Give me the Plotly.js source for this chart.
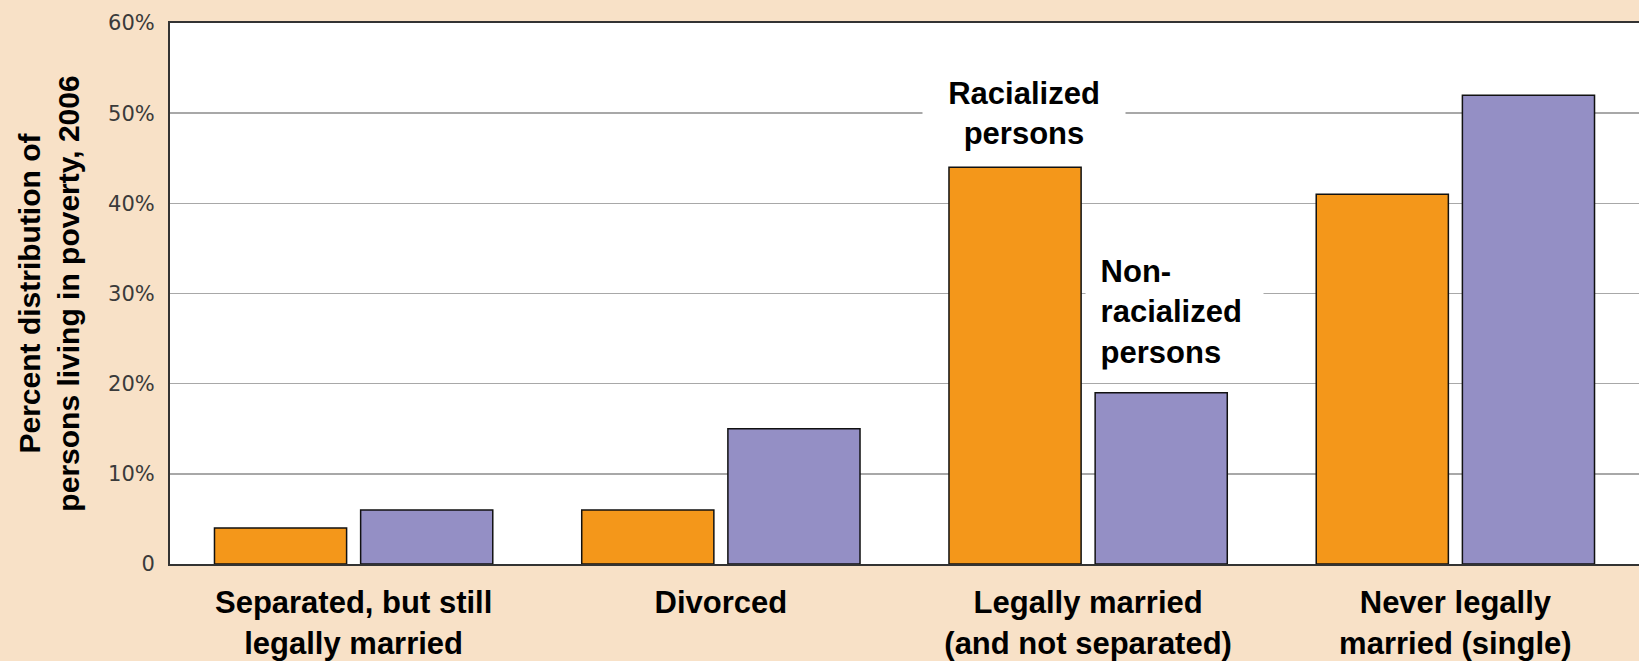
<!DOCTYPE html>
<html>
<head>
<meta charset="utf-8">
<script src="https://cdn.plot.ly/plotly-3.0.1.min.js"></script>
<style>
html,body{margin:0;padding:0;background:#F8E1C7;}
#chart{width:1639px;height:661px;}
</style>
</head>
<body>
<div id="chart"></div>
<script>
const categories = [
  "Separated, but still<br>legally married",
  "Divorced",
  "Legally married<br>(and not separated)",
  "Never legally<br>married (single)"
];
const racialized = [4, 6, 44, 41];
const nonRacialized = [6, 15, 19, 52];
const tickVals = [0, 10, 20, 30, 40, 50, 60];
const tickText = ["0", "10%", "20%", "30%", "40%", "50%", "60%"];
const seriesNames = ["Racialized<br>persons", "Non-<br>racialized<br>persons"];

const FONT = "Arial, 'Liberation Sans', sans-serif";
const TICKFONT = "'DejaVu Sans', Verdana, sans-serif";

const traces = [
  {
    type: "bar", x: categories, y: racialized, name: "Racialized persons",
    marker: {color: "#F4971A", line: {color: "#111", width: 1.5}},
    hoverinfo: "y"
  },
  {
    type: "bar", x: categories, y: nonRacialized, name: "Non-racialized persons",
    marker: {color: "#948FC5", line: {color: "#111", width: 1.5}},
    hoverinfo: "y"
  }
];

const indented = seriesNames[1].split("<br>").map(s => "&nbsp;" + s).join("<br>");

const layout = {
  width: 1639, height: 661,
  paper_bgcolor: "#F8E1C7",
  plot_bgcolor: "#FFFFFF",
  margin: {l: 170, r: 0, t: 23, b: 97},
  showlegend: false,
  barmode: "group",
  bargap: 0.204,
  bargroupgap: 0.096,
  font: {family: FONT, color: "#000"},
  xaxis: {
    type: "category",
    showline: true, linecolor: "#333", linewidth: 2, mirror: true,
    ticks: "", showgrid: false,
    tickfont: {family: FONT, size: 31, color: "#000", weight: "bold"},
    ticklabelstandoff: 10
  },
  yaxis: {
    range: [0, 60],
    tickvals: tickVals, ticktext: tickText,
    showline: true, linecolor: "#333", linewidth: 2, mirror: true,
    showgrid: true, gridcolor: "#A8A8A8", gridwidth: 1.5,
    zeroline: false,
    ticks: "", ticklabelstandoff: 9,
    tickfont: {family: TICKFONT, size: 21, color: "#3A3A3A"},
    title: {
      text: "<b>Percent distribution of<br>persons living in poverty, 2006</b>",
      font: {family: FONT, size: 30, color: "#000"},
      standoff: 20
    }
  },
  annotations: [
    {
      xref: "x", yref: "y", x: categories[2], y: 50,
      text: "<b>" + seriesNames[0] + "</b>", showarrow: false,
      xanchor: "center", yanchor: "middle", xshift: -64,
      font: {family: FONT, size: 31, color: "#000"},
      bgcolor: "#FFFFFF", width: 190, borderpad: 6, align: "center"
    },
    {
      xref: "x", yref: "y", x: categories[2], y: 30,
      text: "<b>" + indented + "</b>", showarrow: false,
      xanchor: "left", yanchor: "middle", xshift: -3, yshift: -18,
      font: {family: FONT, size: 31, color: "#000"},
      bgcolor: "#FFFFFF", width: 165, borderpad: 6, align: "left"
    }
  ]
};

Plotly.newPlot("chart", traces, layout, {displayModeBar: false, staticPlot: true});
</script>
</body>
</html>
